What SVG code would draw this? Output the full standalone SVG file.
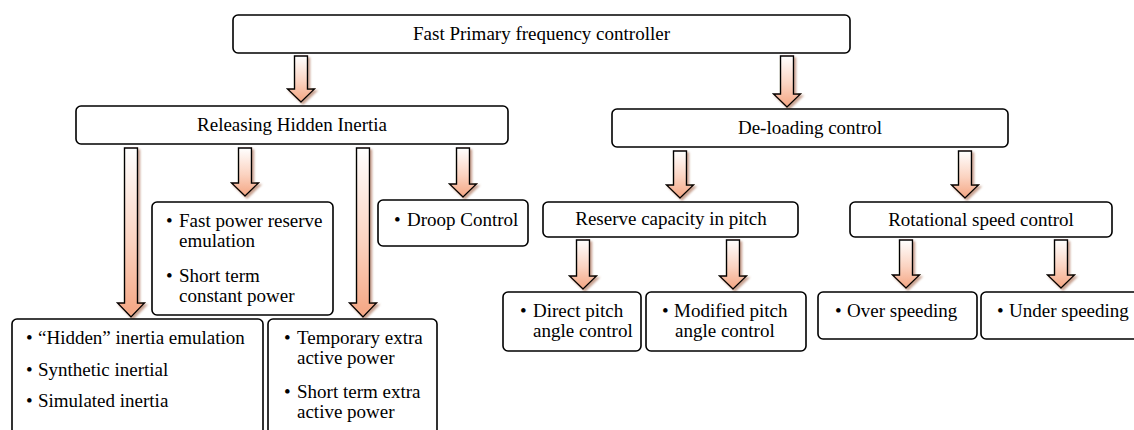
<svg xmlns="http://www.w3.org/2000/svg" width="1134" height="430" viewBox="0 0 1134 430">
<defs>
<linearGradient id="ag" x1="0" y1="0" x2="0" y2="1">
<stop offset="0" stop-color="#ffffff"/>
<stop offset="0.55" stop-color="#fbd3c1"/>
<stop offset="1" stop-color="#f4a582"/>
</linearGradient>
<filter id="sh" x="-30%" y="-10%" width="160%" height="130%">
<feDropShadow dx="2" dy="2" stdDeviation="0.8" flood-color="#b07a62" flood-opacity="0.7"/>
</filter>
</defs>
<style>
.box{fill:#fff;stroke:#000;stroke-width:1.6}
.arr{fill:url(#ag);stroke:#000;stroke-width:1.4;stroke-linejoin:miter;filter:url(#sh)}
text{font-family:"Liberation Serif","Times New Roman",serif;font-size:19px;fill:#000}
.c{text-anchor:middle}
</style>
<rect width="1134" height="430" fill="#fff"/>
<g id="connectors">
<path class="arr" d="M294.5,56H307.5V89H314.5L301,102L287.5,89H294.5Z"/>
<path class="arr" d="M780.5,56H793.5V94H800.5L787,107L773.5,94H780.5Z"/>
<path class="arr" d="M124.5,148H137.5V303H144.5L131,317L117.5,303H124.5Z"/>
<path class="arr" d="M238.5,148H251.5V183H258.5L245,196L231.5,183H238.5Z"/>
<path class="arr" d="M356.5,148H369.5V303H376.5L363,317L349.5,303H356.5Z"/>
<path class="arr" d="M456.5,148H469.5V184H476.5L463,197L449.5,184H456.5Z"/>
<path class="arr" d="M673.5,151H686.5V185H693.5L680,198L666.5,185H673.5Z"/>
<path class="arr" d="M958.5,151H971.5V185H978.5L965,198L951.5,185H958.5Z"/>
<path class="arr" d="M576.5,240H589.5V276H596.5L583,289L569.5,276H576.5Z"/>
<path class="arr" d="M726.5,240H739.5V276H746.5L733,289L719.5,276H726.5Z"/>
<path class="arr" d="M899.5,240H912.5V275H919.5L906,288L892.5,275H899.5Z"/>
<path class="arr" d="M1054.5,240H1067.5V275H1074.5L1061,288L1047.5,275H1054.5Z"/>
</g>
<g id="n-top">
<rect class="box" x="233" y="15" width="617" height="38" rx="5"/>
<text class="c" x="541.5" y="40">Fast Primary frequency controller</text>
</g>
<g id="n-releasing">
<rect class="box" x="76" y="106" width="432" height="38" rx="5"/>
<text class="c" x="292" y="131">Releasing Hidden Inertia</text>
</g>
<g id="n-deloading">
<rect class="box" x="612" y="109" width="396" height="38" rx="5"/>
<text class="c" x="810" y="134">De-loading control</text>
</g>
<g id="n-fastpower">
<rect class="box" x="152" y="202" width="181" height="113" rx="5"/>
<text><tspan x="166" y="227">•</tspan><tspan x="179" y="227">Fast power reserve</tspan><tspan x="179" y="247">emulation</tspan><tspan x="166" y="282">•</tspan><tspan x="179" y="282">Short term</tspan><tspan x="179" y="302">constant power</tspan></text>
</g>
<g id="n-droop">
<rect class="box" x="378" y="200" width="150" height="46" rx="5"/>
<text><tspan x="394" y="226">•</tspan><tspan x="407" y="226">Droop Control</tspan></text>
</g>
<g id="n-hidden">
<rect class="box" x="12" y="319" width="251" height="130" rx="5"/>
<text><tspan x="26" y="344">•</tspan><tspan x="38" y="344">“Hidden” inertia emulation</tspan><tspan x="26" y="376">•</tspan><tspan x="38" y="376">Synthetic inertial</tspan><tspan x="26" y="407">•</tspan><tspan x="38" y="407">Simulated inertia</tspan></text>
</g>
<g id="n-temporary">
<rect class="box" x="268" y="319" width="169" height="130" rx="5"/>
<text><tspan x="284" y="344">•</tspan><tspan x="297" y="344">Temporary extra</tspan><tspan x="297" y="364">active power</tspan><tspan x="284" y="398">•</tspan><tspan x="297" y="398">Short term extra</tspan><tspan x="297" y="418">active power</tspan></text>
</g>
<g id="n-reserve">
<rect class="box" x="543" y="202" width="255" height="35" rx="5"/>
<text class="c" x="671" y="225">Reserve capacity in pitch</text>
</g>
<g id="n-rotational">
<rect class="box" x="850" y="202" width="262" height="35" rx="5"/>
<text class="c" x="981" y="226">Rotational speed control</text>
</g>
<g id="n-direct">
<rect class="box" x="503" y="292" width="138" height="59" rx="5"/>
<text><tspan x="520" y="317">•</tspan><tspan x="533" y="317">Direct pitch</tspan><tspan x="533" y="337">angle control</tspan></text>
</g>
<g id="n-modified">
<rect class="box" x="646" y="292" width="160" height="59" rx="5"/>
<text><tspan x="662" y="317">•</tspan><tspan x="674" y="317">Modified pitch</tspan><tspan x="675" y="337">angle control</tspan></text>
</g>
<g id="n-over">
<rect class="box" x="818" y="292" width="159" height="47" rx="5"/>
<text><tspan x="835" y="317">•</tspan><tspan x="847" y="317">Over speeding</tspan></text>
</g>
<g id="n-under">
<rect class="box" x="981" y="292" width="170" height="47" rx="5"/>
<text><tspan x="997" y="317">•</tspan><tspan x="1009" y="317">Under speeding</tspan></text>
</g>
</svg>
